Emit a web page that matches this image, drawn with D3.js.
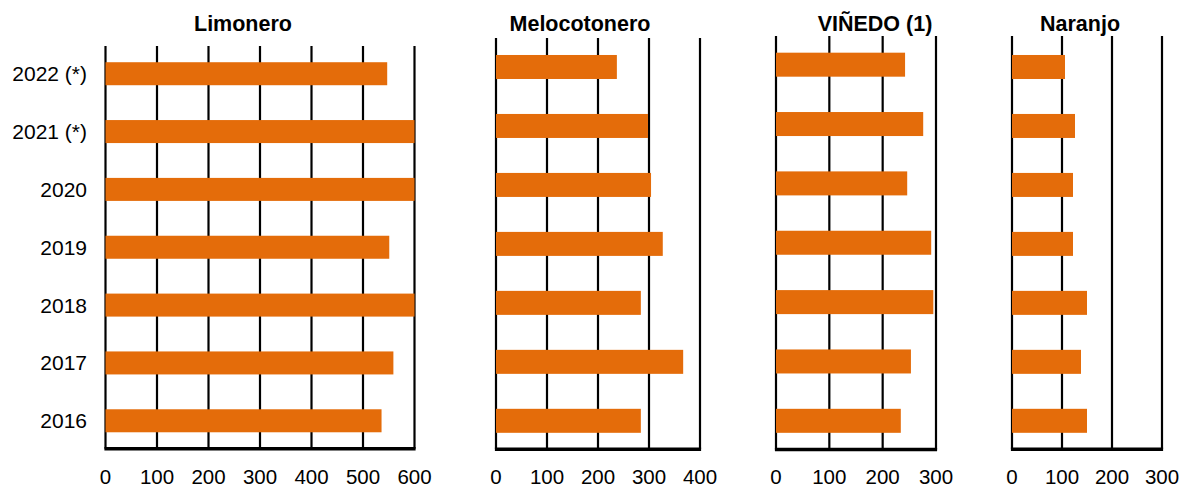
<!DOCTYPE html>
<html><head><meta charset="utf-8">
<script src="https://cdn.jsdelivr.net/npm/d3@7"></script>
<style>body{margin:0;background:#fff}svg{display:block}text{font-family:Arial,"Liberation Sans",sans-serif;fill:#000}</style>
</head><body>
<svg id="c" width="1183" height="488"></svg>
<script>
const years = ["2022 (*)","2021 (*)","2020","2019","2018","2017","2016"];
const limonero = [547, 600, 600, 551, 600, 559, 536];
const melocotonero = [237, 298, 304, 327, 284, 367, 284];
const vinedo = [242, 276, 246, 291, 295, 253, 234];
const naranjo = [106, 126, 122, 122, 150, 138, 150];
const titles = ["Limonero","Melocotonero","VIÑEDO (1)","Naranjo"];
const limTicks = [0,100,200,300,400,500,600];
const melTicks = [0,100,200,300,400];
const vinTicks = [0,100,200,300];
const narTicks = [0,100,200,300];

const panels = [
  {title:titles[0], values:limonero, ticks:limTicks, max:600, x:[105.5,414.5], y:[44.8,449.7], top:46, bh:23, tx:243},
  {title:titles[1], values:melocotonero, ticks:melTicks, max:400, x:[496,700], y:[37.5,450.3], top:38, bh:24, tx:580},
  {title:titles[2], values:vinedo, ticks:vinTicks, max:300, x:[776,936], y:[35,450.5], top:36, bh:24, tx:875},
  {title:titles[3], values:naranjo, ticks:narTicks, max:300, x:[1012,1162], y:[37.5,450.3], top:36, bh:24, tx:1080}
];

const svg = d3.select("#c");
panels.forEach((p,i)=>{
  const x = d3.scaleLinear().domain([0,p.max]).range(p.x).clamp(true);
  const y = d3.scaleBand().domain(years).range(p.y);
  const g = svg.append("g");
  const bottom = p.y[1]-1;
  g.selectAll("line.grid").data(p.ticks).join("line")
    .attr("x1",d=>x(d)).attr("x2",d=>x(d))
    .attr("y1",p.top).attr("y2",bottom)
    .attr("stroke","#000").attr("stroke-width",2.2);
  g.append("line").attr("x1",p.x[0]-1.1).attr("x2",p.x[1]+1.1)
    .attr("y1",bottom).attr("y2",bottom)
    .attr("stroke","#000").attr("stroke-width",3.5);
  g.selectAll("rect").data(p.values).join("rect")
    .attr("x",x(0)).attr("width",d=>x(d)-x(0))
    .attr("y",(d,j)=>y(years[j])+y.bandwidth()/2-p.bh/2)
    .attr("height",p.bh).attr("fill","#E46C0A");
  g.selectAll("text.tick").data(p.ticks).join("text")
    .attr("x",d=>x(d)).attr("y",484).attr("text-anchor","middle")
    .style("font-size","20.5px").text(d=>d);
  g.append("text").attr("x",p.tx).attr("y",31).attr("text-anchor","middle")
    .style("font-size","21.5px").style("font-weight","bold").text(p.title);
  if(i===0){
    g.selectAll("text.yr").data(years).join("text")
      .attr("x",87).attr("y",d=>y(d)+y.bandwidth()/2).attr("dy","0.36em")
      .attr("text-anchor","end").style("font-size","21px").text(d=>d);
  }
});
</script>
</body></html>
